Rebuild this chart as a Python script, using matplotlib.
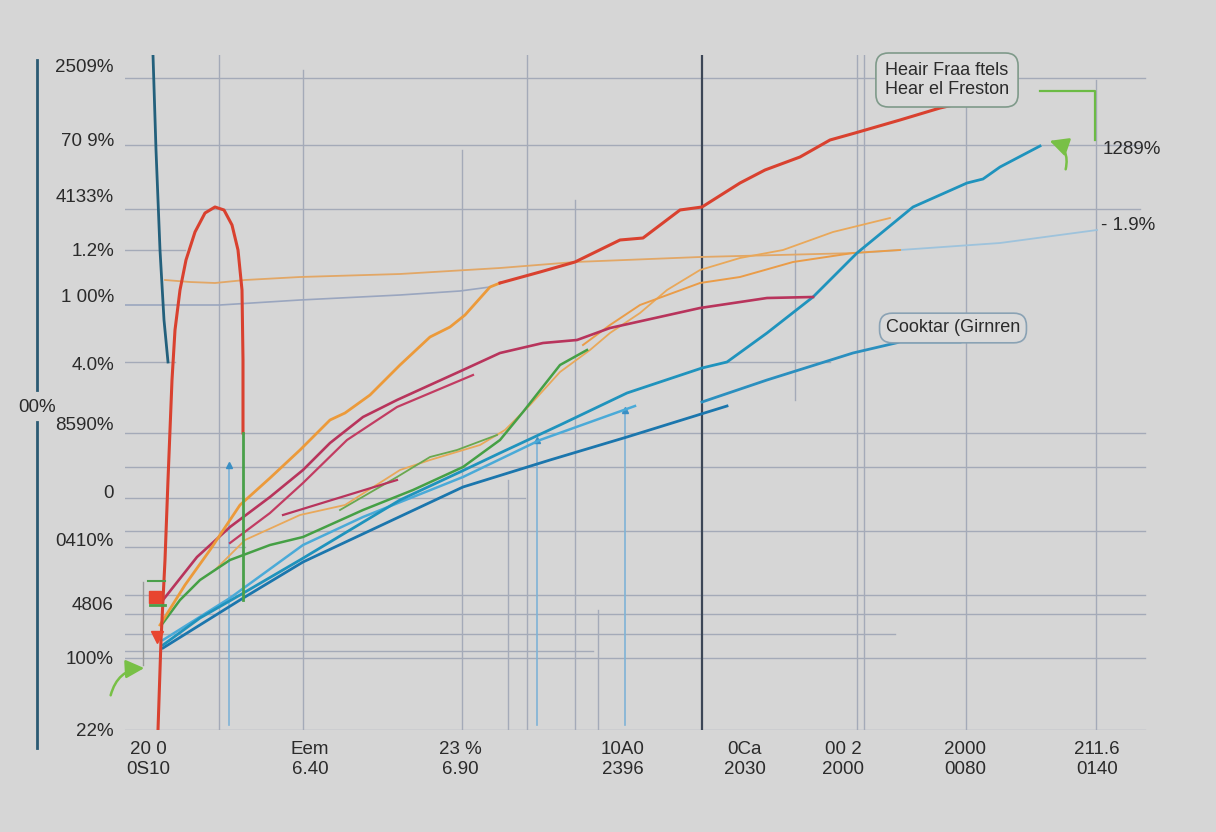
import matplotlib.pyplot as plt
import numpy as np

plt.rcParams['font.family'] = ['Liberation Sans', 'DejaVu Sans']

# ---- data ----
ytick_vals = [66.4, 59.0, 53.4, 48.0, 43.4, 36.7, 30.7, 23.8, 19.0, 12.7, 7.2, 0.0]
ytick_labels = ['2509%', '70 9%', '4133%', '1.2%', '1 00%', '4.0%', '8590%',
                '0', '0410%', '4806', '100%', '22%']
xtick_vals = [2.3, 18.5, 33.5, 49.8, 62.0, 71.8, 84.0, 97.2]
xtick_labels = ['20 0\n0S10', 'Eem\n6.40', '23 %\n6.90', '10A0\n2396',
                '0Ca\n2030', '00 2\n2000', '2000\n0080', '211.6\n0140']

# horizontal grid: level, start, end
hgrid_y = [65.2, 58.5, 52.1, 48.0, 36.8, 36.8, 29.7, 26.3, 23.2, 19.9, 18.3,
           13.5, 11.6, 9.6, 7.9, 7.2, 0.0]
hgrid_x0 = [0, 0, 0, 0, 0, 60.0, 0, 0, 0, 0, 0, 0, 0, 0, 0, 0, 0]
hgrid_x1 = [102, 101.5, 101.5, 6.0, 5.0, 70.5, 102, 102, 40.0, 102, 12.0,
            102, 102, 77.0, 46.8, 102, 102]
# vertical grid: position, bottom, top
vgrid_x = [9.4, 17.8, 33.7, 38.3, 40.2, 45.0, 47.3, 67.0, 73.2, 73.9, 84.1, 97.1]
vgrid_y0 = [0, 0, 0, 0, 0, 0, 0, 33.0, 0, 0, 0, 0]
vgrid_y1 = [67.5, 66.0, 58.0, 25.0, 67.5, 53.0, 12.0, 48.0, 67.5, 67.5, 67.5, 65.0]
blue_vx = [10.4, 41.2, 50.0]
blue_vtop = [26.5, 29.0, 32.0]

red_loop_x = [3.3, 3.6, 4.0, 4.3, 4.7, 5.0, 5.5, 6.1, 7.0, 8.0, 9.0, 9.9, 10.7, 11.3, 11.7, 11.8, 11.8]
red_loop_y = [0.0, 9.0, 17.0, 25.0, 35.0, 40.0, 44.0, 47.0, 49.8, 51.7, 52.3, 52.0, 50.5, 48.0, 44.0, 37.0, 29.7]
green_drop_x = [11.8, 11.8]
green_drop_y = [29.7, 13.0]

orange_x = [3.5, 6.0, 8.5, 11.5, 14.5, 17.5, 20.5, 22.0, 24.5, 27.5, 30.5, 32.5, 34.0, 36.5, 37.5]
orange_y = [10.5, 14.5, 18.0, 22.5, 25.2, 28.0, 31.0, 31.7, 33.5, 36.5, 39.3, 40.3, 41.5, 44.3, 44.7]
red_x = [37.5, 41.5, 45.0, 49.5, 51.8, 55.5, 57.7, 61.5, 64.0, 67.5, 70.5, 73.0, 77.5, 81.5, 85.0]
red_y = [44.7, 45.8, 46.8, 49.0, 49.2, 52.0, 52.3, 54.7, 56.0, 57.3, 59.0, 59.7, 61.0, 62.2, 63.0]

tan_x = [9.0, 12.0, 17.5, 22.0, 27.5, 30.5, 35.5, 38.0, 40.5, 43.5, 46.5, 48.5, 51.5, 54.2, 57.5, 61.5, 65.8, 70.8, 76.5]
tan_y = [16.0, 19.0, 21.5, 22.5, 26.0, 27.0, 28.5, 30.0, 32.5, 35.8, 38.0, 39.7, 41.7, 44.0, 46.0, 47.2, 48.0, 49.8, 51.2]
orange2_x = [45.8, 48.5, 51.5, 57.5, 61.5, 66.8, 72.8, 77.5]
orange2_y = [38.5, 40.5, 42.5, 44.7, 45.3, 46.8, 47.7, 48.0]
faint_or_x = [4.0, 6.5, 9.0, 12.0, 17.5, 27.5, 37.5, 45.0, 57.5, 73.2]
faint_or_y = [45.0, 44.8, 44.7, 45.0, 45.3, 45.6, 46.2, 46.8, 47.3, 47.7]
faint_bl_x = [73.2, 87.5, 97.2]
faint_bl_y = [47.7, 48.7, 50.0]
grey_x = [0, 9.5, 17.5, 27.5, 33.5, 36.5]
grey_y = [42.5, 42.5, 43.0, 43.5, 43.9, 44.3]

mag1_x = [3.8, 7.2, 10.5, 14.5, 17.8, 20.5, 23.8, 27.2, 33.8, 37.5, 41.8, 45.2, 48.5, 57.5, 64.2, 68.8]
mag1_y = [13.0, 17.3, 20.3, 23.3, 26.0, 28.7, 31.3, 33.0, 36.0, 37.7, 38.7, 39.0, 40.2, 42.2, 43.2, 43.3]
mag2_x = [10.5, 14.5, 17.8, 22.2, 27.2, 34.8]
mag2_y = [18.7, 21.7, 24.7, 29.0, 32.3, 35.5]
mag3_x = [15.8, 27.2]
mag3_y = [21.5, 25.0]

green_x = [3.8, 5.5, 7.5, 10.5, 14.5, 17.8, 23.8, 28.8, 33.8, 37.5, 39.8, 43.5, 46.2]
green_y = [10.7, 13.0, 15.0, 17.0, 18.5, 19.3, 22.0, 24.0, 26.3, 29.0, 31.8, 36.5, 38.0]
green2_x = [21.5, 27.2, 30.5, 33.2, 37.2]
green2_y = [22.0, 25.3, 27.3, 28.0, 29.5]

steep_x = [2.8, 3.1, 3.5, 3.9, 4.3]
steep_y = [67.5, 58.0, 48.0, 41.0, 36.8]
teal_x = [3.8, 7.5, 11.5, 17.5, 27.5, 33.5, 37.5, 43.5, 50.2, 57.7, 60.2, 64.2, 68.8, 73.2, 78.8, 84.2, 85.8, 87.5, 91.5]
teal_y = [8.5, 11.2, 13.5, 17.0, 23.0, 25.8, 27.7, 30.5, 33.7, 36.2, 36.8, 39.7, 43.3, 47.7, 52.3, 54.7, 55.1, 56.3, 58.4]
blue1_x = [3.8, 10.5, 17.8, 23.8, 33.8, 41.5, 51.0]
blue1_y = [9.0, 13.2, 18.5, 21.3, 25.3, 29.0, 32.4]
blue3_x = [3.8, 11.5, 17.8, 33.8, 42.5, 50.2, 60.2]
blue3_y = [8.2, 13.0, 16.8, 24.3, 27.0, 29.3, 32.4]
blue4_x = [57.7, 64.2, 72.8, 77.5, 83.5]
blue4_y = [32.8, 35.0, 37.7, 38.8, 38.8]

bg = '#d6d6d6'
fig = plt.figure(figsize=(12.16, 8.32), dpi=100, facecolor=bg)
ax = fig.add_axes([125 / 1216, 102 / 832, 1025 / 1216, 675 / 832])
ax.set_facecolor(bg)
ax.set_xlim(0, 102.5)
ax.set_ylim(0, 67.5)
for s in ax.spines.values():
    s.set_visible(False)

# grid
for y, a, b in zip(hgrid_y, hgrid_x0, hgrid_x1):
    ax.plot([a, b], [y, y], color='#a4aab8', lw=1.0, zorder=1)
for x, a, b in zip(vgrid_x, vgrid_y0, vgrid_y1):
    ax.plot([x, x], [a, b], color='#a4aab8', lw=1.0, zorder=1)
for x, t in zip(blue_vx, blue_vtop):
    ax.plot([x, x], [0.5, t], color='#7fb3d6', lw=1.2, zorder=1)
    ax.plot(x, t, marker='^', color='#3a8fc4', ms=5, zorder=2)
ax.plot([57.7, 57.7], [0, 67.5], color='#3c4656', lw=1.6, zorder=2)

# lines
ax.plot(grey_x, grey_y, color='#9aa6bf', lw=1.2, zorder=2)
ax.plot(faint_or_x, faint_or_y, color='#e2a766', lw=1.3, zorder=2)
ax.plot(faint_bl_x, faint_bl_y, color='#9ec3dc', lw=1.3, zorder=2)
ax.plot(tan_x, tan_y, color='#e9a85a', lw=1.3, zorder=3)
ax.plot(orange2_x, orange2_y, color='#ea9c48', lw=1.4, zorder=3)
ax.plot(blue4_x, blue4_y, color='#2a8fbf', lw=2.0, zorder=3)
ax.plot(blue1_x, blue1_y, color='#4aaad8', lw=1.8, zorder=3)
ax.plot(blue3_x, blue3_y, color='#1b76ad', lw=2.0, zorder=3)
ax.plot(teal_x, teal_y, color='#1f93bd', lw=2.0, zorder=3)
ax.plot(green2_x, green2_y, color='#6aa84f', lw=1.3, zorder=3)
ax.plot(green_x, green_y, color='#45a045', lw=1.8, zorder=3)
ax.plot(mag3_x, mag3_y, color='#b8345c', lw=1.6, zorder=3)
ax.plot(mag2_x, mag2_y, color='#c23c62', lw=1.6, zorder=3)
ax.plot(mag1_x, mag1_y, color='#b8345c', lw=1.9, zorder=3)
ax.plot(orange_x, orange_y, color='#ec9a3a', lw=2.0, zorder=4)
ax.plot(red_x, red_y, color='#d9412f', lw=2.2, zorder=4)
ax.plot(steep_x, steep_y, color='#23607c', lw=2.0, zorder=4)
ax.plot(red_loop_x, red_loop_y, color='#d9412f', lw=2.2, zorder=4)
ax.plot(green_drop_x, green_drop_y, color='#4aa04a', lw=2.0, zorder=4)

# small markers near the origin
ax.plot(3.0, 13.3, marker='s', color='#e8452f', ms=8, zorder=5)
ax.plot(3.2, 9.3, marker='v', color='#e8452f', ms=9, zorder=5)
ax.plot([2.3, 4.0], [14.9, 14.9], color='#4aa04a', lw=1.5, zorder=5)
ax.plot([2.5, 4.0], [12.5, 12.5], color='#4aa04a', lw=2.0, zorder=5)
ax.plot([1.8, 1.8], [6.5, 14.8], color='#9a9a9a', lw=1.0, zorder=5)
ax.annotate('', xy=(2.2, 6.2), xytext=(-1.5, 3.2),
            arrowprops=dict(arrowstyle='-|>', color='#78c046', lw=1.8,
                            mutation_scale=28, connectionstyle='arc3,rad=-0.4'))
ax.annotate('', xy=(92.2, 59.0), xytext=(94.0, 55.8),
            arrowprops=dict(arrowstyle='-|>', color='#78c046', lw=1.8,
                            mutation_scale=28, connectionstyle='arc3,rad=0.5'))
ax.plot([91.5, 97.0, 97.0], [63.9, 63.9, 59.0], color='#6cbb45', lw=1.6, zorder=5)

# text boxes
ax.text(82.2, 65.0, 'Heair Fraa ftels\nHear el Freston', ha='center', va='center',
        fontsize=13, color='#2b2b2b', linespacing=1.15, zorder=6,
        bbox=dict(boxstyle='round,pad=0.5,rounding_size=0.7', fc='#dadada', ec='#7f9a8a', lw=1.2))
ax.text(82.8, 40.2, 'Cooktar (Girnren', ha='center', va='center', fontsize=13,
        color='#2b2b2b', zorder=6,
        bbox=dict(boxstyle='round,pad=0.35,rounding_size=0.7', fc='#dadada', ec='#8aa2b4', lw=1.2))
ax.text(97.8, 58.0, '1289%', ha='left', va='center', fontsize=13.5, color='#2b2b2b')
ax.text(97.6, 50.5, '- 1.9%', ha='left', va='center', fontsize=13.5, color='#2b2b2b')

# left axis decoration
ax.plot([-8.8, -8.8], [67.0, 34.0], color='#2b5a73', lw=2.0, clip_on=False)
ax.plot([-8.8, -8.8], [30.8, -1.8], color='#2b5a73', lw=2.0, clip_on=False)
ax.text(-8.8, 32.2, '00%', ha='center', va='center', fontsize=13.5, color='#2b2b2b')

ax.set_yticks(ytick_vals, ytick_labels)
ax.set_xticks(xtick_vals, xtick_labels)
ax.tick_params(axis='both', length=0, labelsize=13.5, labelcolor='#2b2b2b')
ax.tick_params(axis='y', pad=8)
ax.tick_params(axis='x', pad=8)

fig.savefig('out.png', dpi=100, facecolor=bg)
